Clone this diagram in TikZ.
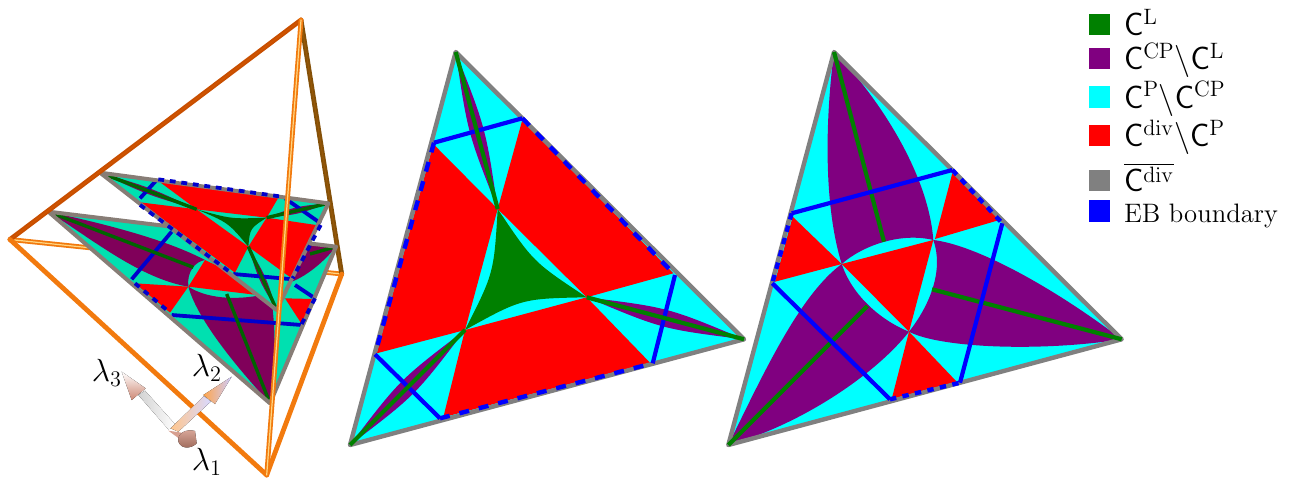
\documentclass[tikz,border=0pt]{standalone}
\usetikzlibrary{positioning}

\definecolor{legGreen}{RGB}{0,128,0}
\definecolor{legPurple}{RGB}{128,0,128}
\definecolor{legRed}{RGB}{255,0,0}
\definecolor{legCyan}{RGB}{0,255,255}
\definecolor{legGray}{RGB}{128,128,128}
\definecolor{legBlue}{RGB}{0,0,255}
\definecolor{litGreen}{RGB}{0,100,0}
\definecolor{litPurple}{RGB}{128,0,90}
\definecolor{litTeal}{RGB}{0,224,176}
\definecolor{litGray}{RGB}{135,125,118}
\definecolor{litBlue}{RGB}{0,0,205}
\definecolor{rodDark}{RGB}{200,78,0}
\definecolor{rodBrown}{RGB}{132,80,8}
\definecolor{rodOrange}{RGB}{242,122,14}
\definecolor{rodLight}{RGB}{255,214,130}
\definecolor{axisRose}{RGB}{205,135,115}

\begin{document}
\begin{tikzpicture}[
    x=0.5pt, y=-0.5pt,
    swatch/.style={rectangle, minimum size=10.75pt, inner sep=0pt, fill=#1},
    legtext/.style={inner sep=0pt, scale=0.926, font=\LARGE},
    axislabel/.style={inner sep=0pt, scale=0.926, font=\LARGE},
    greenline/.style={draw=legGreen, line width=2.1pt},
    graphedge/.style={draw=legGray, line width=2.2pt, line join=round},
    ebline/.style={draw=legBlue, line width=2.1pt},
    ebdash/.style={draw=legBlue, line width=2.2pt, dash pattern=on #1 off #1},
    litedge/.style={draw=litGray, line width=#1, line join=round},
    litgreen/.style={draw=litGreen, line width=1.7pt},
    litblue/.style={draw=litBlue, line width=1.9pt},
    litdash/.style={draw=litBlue, line width=1.9pt, dash pattern=on 2.9pt off 2.9pt},
    rod/.style 2 args={draw=#1, line width=0.9pt, double=#2, double distance=0.6pt, line cap=round},
    zoomed/.style={shift={(0,150)}, x=0.16667pt, y=-0.16667pt}
]
\useasboundingbox (0,0) rectangle (1295,481);

% Frame, back rods
\coordinate (fp) at (301,20);
\coordinate (fq) at (10,239.5);
\coordinate (fs) at (266.7,475);
\coordinate (fu) at (341.7,274);
\draw[rod={rodOrange}{rodLight}] (fq) -- (fu);
\draw[rod={rodBrown}{rodBrown!85!orange}] (fp) -- (fu);

% Lower face in the frame
\begin{scope}[zoomed]
    \coordinate (lt) at (145,185);
    \coordinate (lr) at (1008,290);
    \coordinate (ll) at (810,760);
    \coordinate (la) at (615,330);
    \coordinate (lb) at (855,445);
    \coordinate (lc) at (565,410);
    \fill[litTeal] (lt) -- (lr) -- (ll) -- cycle;
    \fill[litPurple] (lt) .. controls (330,225) and (500,270) .. (la) .. controls (585,335) and (560,365) .. (lc) .. controls (420,385) and (280,270) .. (lt);
    \fill[litPurple] (ll) .. controls (690,630) and (590,500) .. (lc) .. controls (620,445) and (700,450) .. (775,437) -- (815,455) .. controls (825,520) and (830,650) .. (ll);
    \fill[litPurple] (lr) .. controls (960,350) and (900,390) .. (860,400) -- (930,280) -- cycle;
    \fill[red] (lc) -- (la) -- (lb) -- cycle;
    \fill[red] (405,400) -- (lc) -- (510,488) -- cycle;
    \fill[red] (lb) -- (940,447) -- (905,522) -- cycle;
    \draw[litblue] (515,245) -- (395,388);
    \draw[litblue] (515,495) -- (905,525);
    \draw[litblue] (885,405) -- (945,445);
    \draw[litgreen] (lt) -- (580,352);
    \draw[litgreen] (ll) -- (680,432);
    \draw[litgreen] (lr) -- (930,312);
    \draw[litedge=2pt] (lt) -- (lr) -- (ll) -- cycle;
    \draw[litdash] (405,400) -- (510,488);
    \draw[litdash] (905,522) -- (945,445);
\end{scope}

% Upper face in the frame
\begin{scope}[zoomed]
    \coordinate (ut) at (300,68);
    \coordinate (ur) at (985,160);
    \coordinate (ul) at (830,480);
    \coordinate (ua) at (590,178);
    \coordinate (ub) at (800,203);
    \coordinate (uc) at (745,290);
    \fill[litTeal] (ut) -- (ur) -- (ul) -- cycle;
    \fill[red] (478,95) -- (835,143) -- (ub) -- (ua) -- cycle;
    \fill[red] (420,157) -- (ua) -- (uc) -- (705,368) -- cycle;
    \fill[red] (ub) -- (948,225) -- (875,385) -- (uc) -- cycle;
    \fill[litPurple] (ut) .. controls (441,134) .. (ua) .. controls (449,112) .. (ut);
    \fill[litPurple] (ur) .. controls (895,193) .. (ub) .. controls (889,169) .. (ur);
    \fill[litPurple] (ul) .. controls (798,380) .. (uc) .. controls (776,390) .. (ul);
    \fill[litGreen] (ua) .. controls (693,207) .. (ub) .. controls (750,235) .. (uc) .. controls (685,218) .. (ua);
    \draw[litblue] (470,90) -- (420,145);
    \draw[litblue] (855,145) -- (962,220);
    \draw[litblue] (700,372) -- (880,388);
    \draw[litgreen] (ut) -- (ua);
    \draw[litgreen] (ur) -- (ub);
    \draw[litgreen] (ul) -- (uc);
    \draw[litedge=2pt] (ut) -- (ur) -- (ul) -- cycle;
    \draw[litdash] (475,88) -- (845,140);
    \draw[litdash] (420,165) -- (695,370);
    \draw[litdash] (962,225) -- (878,385);
\end{scope}

% Frame, front rods
\draw[rod={rodDark}{rodDark!85!orange}] (fp) -- (fq);
\draw[rod={rodOrange}{rodOrange}] (fq) -- (fs);
\draw[rod={rodOrange}{rodOrange}] (fs) -- (fu);
\draw[rod={rodOrange}{rodLight}] (fp) -- (fs);

% Axes
\begin{scope}[zoomed]
    \coordinate (ax) at (515,845);
    \fill[left color=gray!35, right color=white] (505,838) -- (415,735) -- (435,722) -- (530,828) -- cycle;
    \fill[left color=orange!45, right color=blue!15] (512,835) -- (612,738) -- (632,755) -- (535,845) -- cycle;
    \fill[top color=white, bottom color=axisRose] (365,665) -- (437,715) -- (395,750) -- cycle;
    \fill[left color=orange!70, right color=blue!20] (695,680) -- (610,735) -- (645,762) -- cycle;
    \fill[axisRose!80!white] (505,842) -- (545,848) -- (535,864) -- cycle;
    \fill[top color=axisRose!70!white, bottom color=axisRose!75!black] (590,880) .. controls (575,895) and (545,900) .. (535,875) .. controls (530,850) and (560,835) .. (585,843) -- cycle;
\end{scope}
\node[axislabel] (lam3) at (107,373) {$\lambda_3$};
\node[axislabel] (lam2) at (207,368) {$\lambda_2$};
\node[axislabel] (lam1) at (207,462) {$\lambda_1$};

% Middle triangle
\coordinate (mt) at (455.7,52);
\coordinate (mr) at (744,339.3);
\coordinate (ml) at (350,445);
\coordinate (ma) at (497.7,209);
\coordinate (mb) at (586.7,297.3);
\coordinate (mc) at (465,330);
\fill[legCyan] (mt) -- (mr) -- (ml) -- cycle;
\fill[red] (433.3,144) -- (ma) -- (mc) -- (376.7,353.3) -- cycle;
\fill[red] (522.3,120) -- (673.3,273.3) -- (mb) -- (ma) -- cycle;
\fill[red] (mc) -- (mb) -- (650,362.7) -- (443.3,417.3) -- cycle;
\fill[legPurple] (mt) .. controls (485.7,128.1) .. (ma) .. controls (467.7,132.9) .. (mt);
\fill[legPurple] (mr) .. controls (668.2,307.5) .. (mb) .. controls (662.4,329.1) .. (mr);
\fill[legPurple] (ml) .. controls (415.3,395.3) .. (mc) .. controls (399.7,379.7) .. (ml);
\fill[legGreen] (ma) .. controls (533.3,262) .. (mb) .. controls (521.7,298.6) .. (mc) .. controls (493.9,273) .. (ma);
\draw[graphedge] (mt) -- (mr) -- (ml) -- cycle;
\draw[ebline] (434,142.7) -- (522.3,118.3);
\draw[ebline] (675,275) -- (652.7,363.3);
\draw[ebline] (375,354.3) -- (440,418.3);
\draw[greenline] (mt) -- (ma);
\draw[greenline] (mr) -- (mb);
\draw[greenline] (ml) -- (mc);
\draw[ebdash=5pt] (522.3,118.3) -- (675,275);
\draw[ebdash=5pt] (434,142.7) -- (375,354.3);
\draw[ebdash=5pt] (440,418.3) -- (652.7,363.3);

% Right triangle
\coordinate (rt) at (834,52);
\coordinate (rr) at (1121.7,339.3);
\coordinate (rl) at (728.3,445);
\coordinate (ra) at (933.3,240);
\coordinate (rb) at (909,331.7);
\coordinate (rc) at (841.7,264);
\fill[legCyan] (rt) -- (rr) -- (rl) -- cycle;
\fill[legPurple] (rt) .. controls (874,92) and (928,170) .. (ra) .. controls (900,232) and (862,246) .. (rc) .. controls (825,210) and (824,130) .. (rt);
\fill[legPurple] (rr) .. controls (1040,352) and (940,348) .. (rb) .. controls (930,305) and (944,270) .. (ra) .. controls (975,245) and (1050,285) .. (rr);
\fill[legPurple] (rl) .. controls (765,370) and (800,295) .. (rc) .. controls (852,295) and (880,320) .. (rb) .. controls (875,375) and (800,425) .. (rl);
\fill[red] (ra) -- (rb) -- (rc) -- cycle;
\fill[red] (935,239) -- (952.3,173.3) -- (999.3,220) -- cycle;
\fill[red] (rc) -- (792.7,216.7) -- (775,281.7) -- cycle;
\fill[red] (rb) -- (956.7,381.7) -- (891.7,399) -- cycle;
\draw[graphedge] (rt) -- (rr) -- (rl) -- cycle;
\draw[greenline] (rt) -- (884,241.7);
\draw[greenline] (rr) -- (932,289.3);
\draw[greenline] (rl) -- (867.3,306);
\draw[ebline] (791.7,213.3) -- (952.3,170);
\draw[ebline] (1002.3,223.3) -- (960,382.7);
\draw[ebline] (772.3,283.3) -- (890,399.3);
\draw[ebdash=3.2pt] (952.3,170) -- (1002.3,223.3);
\draw[ebdash=3.2pt] (791.7,213.3) -- (772.3,283.3);
\draw[ebdash=3.2pt] (890,399.3) -- (960,382.7);

% Legend
\node[swatch=legGreen] (swgreen) at (1099.5,24.7) {};
\node[swatch=legPurple, below=5.75pt of swgreen] (swpurple) {};
\node[swatch=legCyan, below=8.15pt of swpurple] (swcyan) {};
\node[swatch=legRed, below=8.15pt of swcyan] (swred) {};
\node[swatch=legGray, below=11.15pt of swred] (swgray) {};
\node[swatch=legBlue, below=4.15pt of swgray] (swblue) {};
\node[legtext, base right=6.5pt of swgreen.south east] (lbgreen) {$\mathsf{C}^{\mathrm{L}}$};
\node[legtext, base right=6.5pt of swpurple.south east] (lbpurple) {$\mathsf{C}^{\mathrm{CP}}\backslash\mathsf{C}^{\mathrm{L}}$};
\node[legtext, base right=6.5pt of swcyan.south east] (lbcyan) {$\mathsf{C}^{\mathrm{P}}\backslash\mathsf{C}^{\mathrm{CP}}$};
\node[legtext, base right=6.5pt of swred.south east] (lbred) {$\mathsf{C}^{\mathrm{div}}\backslash\mathsf{C}^{\mathrm{P}}$};
\node[legtext, base right=6.5pt of swgray.south east] (lbgray) {$\overline{\mathsf{C}^{\mathrm{div}}}$};
\node[legtext, font=\Large, base right=6.5pt of swblue.south east] (lbblue) {EB boundary};

\end{tikzpicture}
\end{document}
